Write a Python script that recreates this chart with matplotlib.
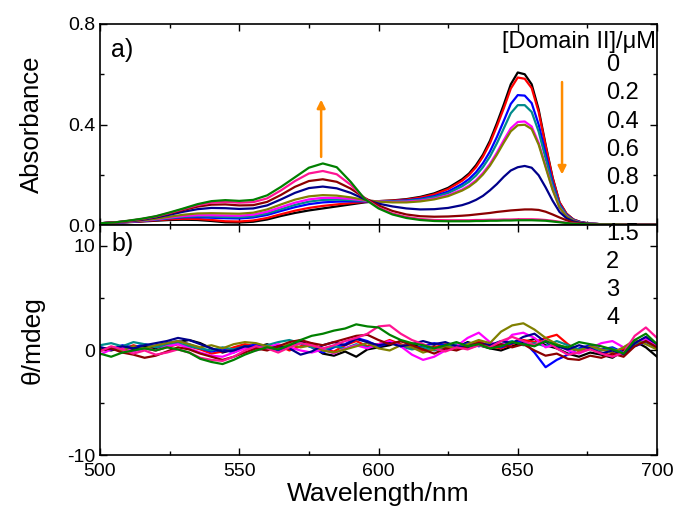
import matplotlib
matplotlib.use("Agg")
import matplotlib.pyplot as plt
from matplotlib.ticker import MultipleLocator

# wavelength grids (nm); finer steps around the Q-band peak
wl_abs = ([500, 505, 510, 515, 520, 525, 530, 535, 540, 545, 550, 555, 560, 565, 570, 575, 580, 585, 590,
           595, 600, 605, 610, 615, 620, 625, 630]
          + [632.5, 635, 637.5, 640, 642.5, 645, 647.5, 650, 652.5, 655, 657.5, 660, 662.5, 665, 667.5, 670, 672.5]
          + [675, 680, 685, 690, 695, 700])
wl_cd = list(range(500, 701, 4))

conc_labels = ["0", "0.2", "0.4", "0.6", "0.8", "1.0", "1.5", "2", "3", "4"]
colors = ["black", "red", "blue", "#008B8B", "magenta", "#808000",
          "#00008B", "#8B0000", "#FF1493", "#008000"]

# absorbance spectra, one per [Domain II]
abs_0 = [.007, .009, .011, .014, .017, .020, .021, .020, .016, .011, .010, .013, .022, .036, .048, .058, .066, .074, .082, .090, .095,
         .098, .103, .112, .126, .148, .182,
         .205, .238, .280, .335, .405, .480, .560, .607, .600, .560, .460, .320, .190, .090, .045, .022, .012,
         .007, .003, .002, .001, .001, .001]
abs_02 = [.007, .009, .012, .015, .019, .023, .025, .024, .020, .015, .014, .018, .028, .043, .057, .068, .076, .082, .087, .092, .095,
          .097, .101, .109, .122, .143, .176,
          .199, .230, .272, .325, .393, .465, .543, .587, .582, .545, .450, .315, .187, .090, .045, .022, .012,
          .007, .003, .002, .001, .001, .001]
abs_04 = [.007, .009, .012, .016, .021, .027, .031, .031, .029, .027, .026, .030, .040, .056, .071, .083, .090, .093, .094, .094, .094,
          .095, .098, .104, .115, .133, .163,
          .183, .210, .246, .292, .350, .415, .482, .517, .515, .485, .400, .285, .170, .082, .041, .020, .011,
          .007, .003, .002, .001, .001, .001]
abs_06 = [.007, .010, .013, .017, .022, .028, .033, .035, .034, .032, .031, .035, .046, .063, .080, .093, .100, .101, .099, .096, .094,
          .094, .096, .101, .111, .127, .154,
          .172, .197, .230, .272, .325, .385, .445, .477, .477, .450, .372, .265, .160, .078, .039, .019, .010,
          .006, .003, .002, .001, .001, .001]
abs_08 = [.007, .010, .013, .017, .023, .030, .036, .039, .039, .038, .037, .041, .053, .071, .089, .102, .108, .108, .104, .098, .094,
          .092, .093, .097, .105, .119, .141,
          .157, .178, .207, .243, .288, .338, .385, .410, .412, .392, .327, .235, .143, .070, .035, .017, .009,
          .006, .003, .002, .001, .001, .001]
abs_10 = [.007, .010, .014, .018, .025, .033, .041, .046, .047, .046, .045, .049, .062, .082, .101, .114, .119, .117, .110, .100, .093,
          .090, .090, .094, .102, .115, .137,
          .152, .173, .201, .236, .280, .328, .373, .397, .399, .382, .320, .230, .140, .069, .034, .017, .009,
          .006, .003, .002, .001, .001, .001]
abs_15 = [.007, .010, .015, .021, .030, .041, .053, .063, .068, .067, .064, .066, .078, .102, .128, .147, .153, .146, .128, .103, .085,
          .074, .066, .062, .063, .068, .079,
          .088, .100, .116, .138, .163, .192, .217, .230, .235, .228, .198, .150, .097, .052, .027, .014, .008,
          .005, .002, .002, .001, .001, .001]
abs_2 = [.007, .010, .016, .023, .033, .046, .060, .073, .081, .082, .078, .079, .092, .120, .152, .175, .182, .172, .145, .108, .078,
         .056, .042, .035, .033, .034, .037,
         .039, .042, .045, .048, .052, .055, .058, .060, .062, .062, .060, .053, .042, .030, .019, .010, .006,
         .004, .002, .002, .001, .001, .001]
abs_3 = [.007, .010, .016, .024, .034, .048, .064, .079, .089, .092, .089, .091, .106, .138, .175, .205, .215, .202, .160, .106, .070,
         .046, .032, .024, .020, .019, .019,
         .019, .020, .020, .021, .021, .022, .022, .023, .023, .023, .022, .020, .017, .013, .009, .006, .004,
         .003, .002, .002, .001, .001, .001]
abs_4 = [.007, .010, .017, .025, .035, .050, .066, .083, .095, .099, .096, .100, .118, .152, .190, .228, .245, .230, .172, .104, .066,
         .042, .028, .020, .016, .015, .015,
         .015, .016, .016, .017, .017, .018, .018, .019, .019, .019, .018, .017, .014, .011, .008, .005, .004,
         .003, .002, .002, .001, .001, .001]

# CD spectra (mdeg)
cd_0 = [0.2, 0.0, 0.3, 0.1, 0.4, 0.2, 0.5, 0.8, 1.0, 0.7, 0.2, -0.2, 0.1, 0.5, 0.3, 0.6, 0.2, 0.5, 0.9, 0.4, -0.3, -0.5, -0.1, -0.6, 0.1, 0.3,
        0.5, 0.9, 0.6, 0.2, 0.4, 0.1, 0.3, 0.8, 0.5, 0.2, 0.0, 0.4, 0.8, 1.1, 0.5, 0.2, -0.3, -0.6, -0.2, -0.4, -0.7, 0.0, 0.9, 0.3, -0.6]
cd_02 = [0.0, 0.3, 0.1, 0.5, 0.2, 0.0, 0.3, 0.6, 0.4, 0.1, -0.3, -0.1, 0.3, 0.6, 0.4, 0.2, 0.5, 0.0, 0.4, 0.7, 0.1, -0.1, 0.5, 0.9, 0.4, 0.6,
         1.0, 0.6, 0.3, 0.0, 0.3, 0.6, 0.2, 0.5, 0.9, 0.4, 0.2, 0.6, 1.0, 0.8, 1.2, 1.5, 0.6, -0.1, 0.2, -0.2, -0.5, 0.2, 0.7, 1.2, 0.5]
cd_04 = [0.3, 0.1, 0.5, 0.3, 0.6, 0.4, 0.7, 0.9, 0.6, 0.2, -0.1, 0.1, -0.2, 0.3, 0.6, 0.3, 0.0, 0.4, 0.7, 0.3, -0.2, 0.3, 0.6, 1.2, 0.9, 0.4,
         0.7, 0.5, 0.2, 0.4, 0.7, 0.5, 0.3, 0.7, 0.4, 0.6, 0.3, 0.7, 0.9, -0.2, -1.6, -0.9, -0.4, 0.2, 0.5, 0.1, 0.3, -0.2, 0.4, 0.8, 0.3]
cd_06 = [0.5, 0.7, 0.4, 0.8, 0.6, 0.3, 0.5, 0.7, 0.4, 0.2, 0.0, 0.3, 0.1, 0.4, 0.2, 0.5, 0.8, 1.0, 0.7, 0.3, 0.0, 0.4, 0.2, 0.6, 0.3, 0.5,
         0.8, 0.4, 0.1, 0.3, 0.0, 0.3, 0.6, 0.2, 0.5, 0.3, 0.6, 0.9, 0.5, 0.7, 0.4, 0.9, 0.5, 0.1, 0.3, 0.0, 0.2, -0.3, 0.6, 0.9, 0.2]
cd_08 = [-0.4, 0.1, 0.3, -0.1, 0.2, 0.0, 0.4, 0.6, 0.2, -0.2, -0.5, -0.6, -0.2, 0.2, 0.0, 0.3, 0.6, 0.3, 0.0, -0.2, 0.1, -0.3, 0.2, 0.5, 0.2, 0.6,
         0.9, 0.4, -0.4, -0.9, -0.6, 0.0, 0.4, 1.2, 1.7, 0.8, 0.4, 1.5, 1.7, 1.2, 0.3, 0.6, 0.0, -0.3, 0.2, 0.7, 0.9, 0.3, 0.8, 1.1, 0.4]
cd_10 = [0.1, 0.3, 0.0, 0.4, 0.2, 0.5, 0.7, 0.9, 0.6, 0.3, 0.5, 0.2, 0.6, 0.8, 0.7, 0.4, 0.2, 0.6, 0.3, 0.5, 0.0, -0.2, 0.1, 0.4, 0.7, 0.2,
         0.0, 0.5, 0.3, -0.2, 0.1, 0.4, 0.2, 0.6, 1.0, 0.7, 1.8, 2.4, 2.6, 2.0, 1.2, 0.6, 0.2, 0.0, 0.4, 0.1, -0.2, 0.3, 1.0, 0.6, 0.1]
cd_15 = [0.3, 0.1, 0.4, 0.2, 0.5, 0.7, 0.9, 1.2, 1.0, 0.6, 0.2, -0.1, 0.0, 0.4, 0.3, 0.1, 0.4, 0.2, -0.4, -0.1, 0.5, 0.8, 0.5, 1.1, 0.8, 0.5,
         0.7, 0.4, 0.6, 0.9, 0.6, 0.8, 0.4, 0.3, 0.7, 0.5, 0.9, 0.7, 1.3, 1.6, 0.8, 0.4, 0.1, 0.5, 0.2, -0.3, 0.0, -0.4, 0.7, 1.3, 0.6]
cd_2 = [0.0, 0.2, -0.2, -0.4, -0.7, -0.5, -0.1, 0.3, 0.1, -0.3, -0.6, -0.9, -0.6, -0.2, 0.2, 0.0, 0.4, 0.8, 1.0, 0.7, 0.5, 0.8, 1.1, 1.4, 1.5, 1.0,
        0.6, 0.9, 0.5, 0.1, -0.3, 0.2, 0.0, 0.4, 0.7, 0.3, 0.6, 0.3, 0.6, 0.0, -0.5, -0.3, -0.8, -0.9, -0.5, -0.7, -0.3, -0.6, 0.4, 0.9, 0.3]
cd_3 = [-0.1, 0.4, 0.1, -0.3, 0.0, -0.4, -0.2, 0.1, -0.2, -0.7, -0.9, -1.0, -0.6, 0.0, 0.4, 0.2, -0.2, 0.3, 0.7, 0.5, 0.2, 0.5, 0.9, 1.2, 1.6, 2.3,
        2.4, 1.6, 1.0, 0.6, 0.2, -0.1, 0.3, 0.1, 0.5, 0.3, 0.9, 1.3, 0.9, 0.5, 1.0, 0.2, -0.4, -0.2, 0.1, -0.3, -0.6, -0.2, 1.4, 2.2, 1.2]
cd_4 = [-0.3, -0.6, -0.2, 0.0, 0.2, 0.0, 0.3, 0.1, -0.2, -0.8, -1.1, -1.3, -0.9, -0.4, 0.0, 0.3, 0.1, 0.5, 1.0, 1.4, 1.6, 1.9, 2.1, 2.5, 2.3, 2.2,
        1.5, 1.0, 0.7, 0.5, 0.2, 0.5, 0.8, 0.4, 0.6, 0.2, 0.4, 0.8, 0.6, 0.4, 0.9, 0.5, 0.3, 0.8, 0.6, 0.4, 0.1, -0.3, 1.0, 1.6, 0.6]

abs_series = [abs_0, abs_02, abs_04, abs_06, abs_08, abs_10, abs_15, abs_2, abs_3, abs_4]
cd_series = [cd_0, cd_02, cd_04, cd_06, cd_08, cd_10, cd_15, cd_2, cd_3, cd_4]

plt.rcParams["font.family"] = ["Liberation Sans", "DejaVu Sans"]
plt.rcParams["axes.unicode_minus"] = False

fig = plt.figure(figsize=(6.79, 5.18), dpi=100)
ax1 = fig.add_axes([0.1473, 0.5656, 0.8203, 0.3881])
ax2 = fig.add_axes([0.1473, 0.1216, 0.8203, 0.4440])

for y, c in zip(abs_series, colors):
    ax1.plot(wl_abs, y, color=c, lw=1.6)
for y, c in zip(cd_series, colors):
    ax2.plot(wl_cd, y, color=c, lw=1.6)

ax1.set_xlim(500, 700)
ax1.set_ylim(0, 0.8)
ax1.yaxis.set_major_locator(MultipleLocator(0.4))
ax1.yaxis.set_minor_locator(MultipleLocator(0.2))
ax1.tick_params(labelbottom=False)
ax1.set_ylabel("Absorbance", fontsize=18.5)

ax2.set_xlim(500, 700)
ax2.set_ylim(-10, 12)
ax2.yaxis.set_major_locator(MultipleLocator(10))
ax2.yaxis.set_minor_locator(MultipleLocator(5))
ax2.set_ylabel("θ/mdeg", fontsize=19)
ax2.set_xlabel("Wavelength/nm", fontsize=19, labelpad=1)

for ax in (ax1, ax2):
    ax.xaxis.set_major_locator(MultipleLocator(50))
    ax.xaxis.set_minor_locator(MultipleLocator(25))
    ax.tick_params(which="both", direction="in", top=True, right=True, labelsize=14, width=1)
    ax.tick_params(which="major", length=5)
    ax.tick_params(which="minor", length=3)
    for s in ax.spines.values():
        s.set_linewidth(1.2)
ax2.tick_params(axis="x", pad=6)
ax1.yaxis.set_label_coords(-0.1, 0.5)
ax2.yaxis.set_label_coords(-0.1, 0.5)

ax1.text(0.02, 0.93, "a)", transform=ax1.transAxes, fontsize=18, va="top")
ax2.text(0.02, 0.97, "b)", transform=ax2.transAxes, fontsize=18, va="top")

# arrows showing the direction of change
ax1.annotate("", xy=(579.4, 0.51), xytext=(579.4, 0.26),
             arrowprops=dict(arrowstyle="-|>", color="darkorange", lw=1.8, mutation_scale=12))
ax1.annotate("", xy=(665.9, 0.19), xytext=(665.9, 0.58),
             arrowprops=dict(arrowstyle="-|>", color="darkorange", lw=1.8, mutation_scale=12))

# concentration key as plain text
fig.text(0.966, 0.919, "[Domain II]/μM", fontsize=17, ha="right", va="center")
for i, lab in enumerate(conc_labels):
    fig.text(0.893, 0.874 - i * 0.0543, lab, fontsize=17, ha="left", va="center")

fig.savefig("out.png", dpi=100)
